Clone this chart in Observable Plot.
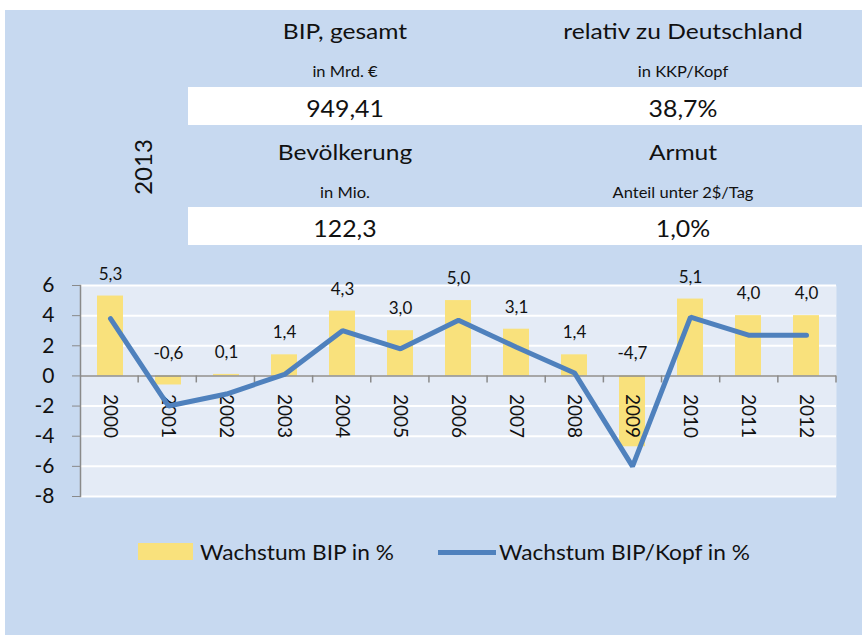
<!DOCTYPE html>
<html>
<head>
<meta charset="utf-8">
<script src="https://cdn.jsdelivr.net/npm/d3@7"></script>
<script src="https://cdn.jsdelivr.net/npm/@observablehq/plot@0.6"></script>
<style>
  html, body { margin: 0; padding: 0; background: #fff; }
  #wrap { position: relative; width: 862px; height: 635px; background: #fff; overflow: hidden; font-family: Lato, "Open Sans", sans-serif; color: #111; }
  #panel { position: absolute; left: 5px; top: 10px; right: 0; bottom: 0; background: #C7D9F0; }
  .band { position: absolute; left: 188px; right: 0; height: 38px; background: #fff; }
  .t { position: absolute; white-space: nowrap; line-height: 1; font-weight: 400; }
  .title { font-size: 21px; transform: translate(-50%, -50%) scaleX(1.17); }
  .unit { font-size: 15px; transform: translate(-50%, -50%) scaleX(1.1); }
  .val { font-size: 23px; transform: translate(-50%, -50%) scaleX(1.08); }
  #year { position: absolute; left: 143px; top: 167px; transform: translate(-50%, -50%) rotate(-90deg); font-size: 24px; line-height: 1; font-weight: 400; }
  #chart { position: absolute; left: 0; top: 260px; }
  #legend { position: absolute; left: 0; top: 541px; width: 862px; height: 24px; font-size: 21px; font-weight: 400; }
  .sw { position: absolute; }
  .lt { position: absolute; top: 0; line-height: 22px; transform-origin: 0 50%; transform: scaleX(1.08); white-space: nowrap; }
</style>
</head>
<body>
<div id="wrap">
  <div id="panel"></div>
  <div id="header"></div>
  <div id="chart"></div>
  <div id="legend"></div>
</div>
<script>
// ---- data ----
const years = ["2000","2001","2002","2003","2004","2005","2006","2007","2008","2009","2010","2011","2012"];
const gdpGrowth = [5.3, -0.6, 0.1, 1.4, 4.3, 3.0, 5.0, 3.1, 1.4, -4.7, 5.1, 4.0, 4.0];
const gdpPerCapitaGrowth = [3.8, -2.0, -1.2, 0.1, 3.0, 1.8, 3.7, 1.9, 0.2, -6.0, 3.9, 2.7, 2.7];
const yTicks = [6, 4, 2, 0, -2, -4, -6, -8];
const seriesNames = ["Wachstum BIP in %", "Wachstum BIP/Kopf in %"];

const headerYear = "2013";
const headerTitles = ["BIP, gesamt", "relativ zu Deutschland", "Bevölkerung", "Armut"];
const headerUnits = ["in Mrd. €", "in KKP/Kopf", "in Mio.", "Anteil unter 2$/Tag"];
const headerValues = ["949,41", "38,7%", "122,3", "1,0%"];

const barColor = "#F9E17C";
const lineColor = "#4F81BD";

// ---- header ----
const header = document.getElementById("header");
const colX = [345, 683];
const rowY = [{title: 30, unit: 71, val: 108, band: 87}, {title: 151, unit: 192, val: 228, band: 207}];
rowY.forEach((r) => {
  const b = document.createElement("div");
  b.className = "band";
  b.style.top = r.band + "px";
  header.appendChild(b);
});
headerTitles.forEach((t, i) => {
  const r = rowY[Math.floor(i / 2)], x = colX[i % 2];
  [["title", headerTitles[i], r.title], ["unit", headerUnits[i], r.unit], ["val", headerValues[i], r.val]].forEach(([cls, txt, y]) => {
    const d = document.createElement("div");
    d.className = "t " + cls;
    d.style.left = x + "px";
    d.style.top = y + "px";
    d.textContent = txt;
    header.appendChild(d);
  });
});
const yr = document.createElement("div");
yr.id = "year";
yr.textContent = headerYear;
header.appendChild(yr);

// ---- chart ----
const data = years.map((y, i) => ({year: y, gdp: gdpGrowth[i], pc: gdpPerCapitaGrowth[i]}));
const fmt = (v) => v.toFixed(1).replace(".", ",");

const boundaryTicks = (index, scales, values, dims) => {
  const g = d3.create("svg:g");
  const n = years.length;
  const x0 = dims.marginLeft, x1 = dims.width - dims.marginRight;
  const y0 = scales.y(0);
  for (let k = 1; k <= n; k++) {
    const x = x0 + (k * (x1 - x0)) / n;
    g.append("line").attr("x1", x).attr("x2", x).attr("y1", y0).attr("y2", y0 + 7)
      .attr("stroke", "#8a8a8a").attr("stroke-width", 1.5);
  }
  return g.node();
};

const chart = Plot.plot({
  width: 862,
  height: 252,
  marginLeft: 80,
  marginRight: 26,
  marginTop: 25,
  marginBottom: 16,
  style: {background: "transparent", fontFamily: "Lato, 'Open Sans', sans-serif", color: "#111"},
  x: {domain: years, paddingInner: 0.55, paddingOuter: 0.275, axis: null},
  y: {domain: [-8, 6], axis: null},
  marks: [
    Plot.frame({fill: "#E4EBF6", stroke: null}),
    Plot.gridY(yTicks, {stroke: "#fff", strokeOpacity: 1, strokeWidth: 2}),
    Plot.barY(data, {x: "year", y: "gdp", fill: barColor}),
    Plot.ruleY([0], {stroke: "#8a8a8a", strokeWidth: 1.5}),
    Plot.frame({anchor: "left", stroke: "#8a8a8a", strokeWidth: 1.5}),
    Plot.axisY(yTicks, {tickSize: 8, tickPadding: 18, fontSize: 21, tickFormat: (d) => String(d), stroke: "#8a8a8a", fill: "#111"}),
    boundaryTicks,
    Plot.text(data, {x: "year", y: 0, text: "year", rotate: 90, textAnchor: "start", dy: 18, fontSize: 19, fill: "#111"}),
    Plot.lineY(data, {x: "year", y: "pc", stroke: lineColor, strokeWidth: 5, strokeLinejoin: "miter"}),
    Plot.text(data, {x: "year", y: (d) => Math.max(0, d.gdp), text: (d) => fmt(d.gdp), dy: -22, fontSize: 17, fill: "#111"})
  ]
});
document.getElementById("chart").appendChild(chart);

// ---- legend ----
const legend = document.getElementById("legend");
legend.innerHTML = `
  <div class="sw" style="left:138px;top:2px;width:55px;height:17px;background:${barColor}"></div>
  <div class="lt" style="left:200px">${seriesNames[0]}</div>
  <div class="sw" style="left:438px;top:9px;width:58px;height:5px;background:${lineColor}"></div>
  <div class="lt" style="left:499px">${seriesNames[1]}</div>`;
</script>
</body>
</html>
